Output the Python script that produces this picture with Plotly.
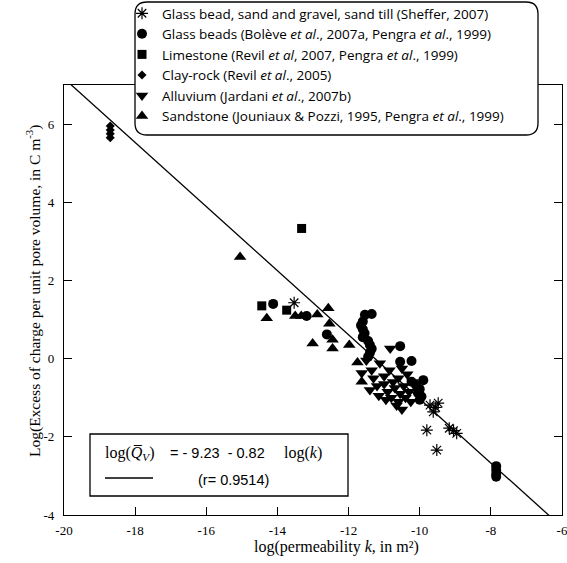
import plotly.graph_objects as go

# ---------------- data ----------------
sheffer_x = [-13.53, -9.71, -9.48, -9.62, -9.55, -9.80, -9.52, -9.17, -8.96, -9.05]
sheffer_y = [1.43, -1.19, -1.14, -1.36, -1.25, -1.83, -2.34, -1.78, -1.91, -1.84]

beads_x = [-14.12, -13.18, -12.61, -11.54, -11.35, -11.60, -11.65, -11.60, -11.55, -11.60,
           -11.45, -11.40, -11.35, -11.40, -11.45, -10.55, -10.55, -10.23, -10.23, -9.90,
           -10.10, -10.00, -10.05, -9.95, -10.00, -7.85, -7.85, -7.85, -7.85]
beads_y = [1.40, 1.09, 0.62, 1.12, 1.14, 0.95, 0.85, 0.75, 0.65, 0.55,
           0.45, 0.35, 0.25, 0.15, 0.05, 0.32, -0.08, -0.06, -0.59, -0.55,
           -0.68, -0.78, -0.88, -0.97, -1.05, -2.75, -2.85, -2.95, -3.02]

lime_x = [-13.32, -14.44, -13.74]
lime_y = [3.33, 1.35, 1.24]

clay_x = [-18.70, -18.70, -18.70, -18.70]
clay_y = [5.95, 5.85, 5.75, 5.65]

alluv_x = [-11.12, -10.83, -11.63, -11.40, -11.30, -11.20, -11.00, -11.00, -10.90, -10.85,
           -10.80, -10.75, -10.70, -10.60, -10.60, -10.55, -10.50, -10.45, -10.40, -10.35,
           -10.30, -10.95, -11.15, -10.65, -10.20, -11.50, -11.35, -10.25, -10.50]
alluv_y = [-0.12, 0.26, -0.37, -0.80, -0.50, -0.70, -0.45, -0.65, -0.85, -0.30,
           -1.00, -0.60, -0.75, -0.50, -1.10, -0.90, -1.30, -0.70, -1.00, -0.40,
           -0.85, -1.05, -0.95, -1.20, -0.60, -0.05, -0.30, -1.10, -0.25]

sand_x = [-15.05, -14.30, -13.50, -13.33, -12.88, -12.57, -12.54, -13.01, -12.45, -12.45,
          -11.98, -11.75, -11.63]
sand_y = [2.60, 1.03, 1.09, 1.09, 1.13, 1.29, 0.89, 0.39, 0.48, 0.26,
          0.35, -0.10, -0.59]

# regression: log(Qv) = a + b log(k)
fit_a, fit_b = -9.23, -0.82
fit_x = [-20, -6]
fit_y = [fit_a + fit_b * v for v in fit_x]

x_ticks = [-20, -18, -16, -14, -12, -10, -8, -6]
y_ticks = [-4, -2, 0, 2, 4, 6]

legend_names = [
    "Glass bead, sand and gravel, sand till (Sheffer, 2007)",
    "Glass beads (Bolève <i>et al</i>., 2007a, Pengra <i>et al</i>., 1999)",
    "Limestone (Revil <i>et al</i>, 2007, Pengra <i>et al</i>., 1999)",
    "Clay-rock (Revil <i>et al</i>., 2005)",
    "Alluvium (Jardani <i>et al</i>., 2007b)",
    "Sandstone (Jouniaux &amp; Pozzi, 1995, Pengra <i>et al</i>., 1999)",
]

# ---------------- figure ----------------
W, H = 567, 563
L, R, T, B = 64, 5, 85, 48
pw, ph = W - L - R, H - T - B

def px2paper(x, y):
    # screen pixel -> paper coordinate
    return (x - L) / pw, (H - B - y) / ph

fig = go.Figure()

fig.add_trace(go.Scatter(x=fit_x, y=fit_y, mode="lines",
                         line=dict(color="black", width=1.3), showlegend=False,
                         hoverinfo="skip"))

black = "black"
fig.add_trace(go.Scatter(x=sheffer_x, y=sheffer_y, mode="markers", name=legend_names[0],
                         marker=dict(symbol="asterisk-open", size=10, color=black,
                                     line=dict(color=black, width=1.2))))
fig.add_trace(go.Scatter(x=beads_x, y=beads_y, mode="markers", name=legend_names[1],
                         marker=dict(symbol="circle", size=10, color=black, line=dict(width=0))))
fig.add_trace(go.Scatter(x=lime_x, y=lime_y, mode="markers", name=legend_names[2],
                         marker=dict(symbol="square", size=9, color=black, line=dict(width=0))))
fig.add_trace(go.Scatter(x=clay_x, y=clay_y, mode="markers", name=legend_names[3],
                         marker=dict(symbol="diamond", size=7, color=black, line=dict(width=0))))
fig.add_trace(go.Scatter(x=alluv_x, y=alluv_y, mode="markers", name=legend_names[4],
                         marker=dict(symbol="triangle-down", size=11, color=black, line=dict(width=0))))
fig.add_trace(go.Scatter(x=sand_x, y=sand_y, mode="markers", name=legend_names[5],
                         marker=dict(symbol="triangle-up", size=11, color=black, line=dict(width=0))))

serif = "Liberation Serif, Times New Roman, serif"
sans = "Liberation Sans, Arial, sans-serif"
legfont = "Open Sans, Noto Sans, sans-serif"

axis_common = dict(showline=True, linecolor="black", linewidth=1.3, mirror="ticks",
                   ticks="inside", ticklen=8, tickwidth=1.3, tickcolor="black",
                   showgrid=False, zeroline=False, ticklabeloverflow="allow",
                   tickfont=dict(family=serif, size=13, color="black"))

fig.update_xaxes(range=[-20, -6], tickvals=x_ticks, ticktext=[str(v) for v in x_ticks],
                 ticklabelstandoff=3, **axis_common)
fig.update_yaxes(range=[-4, 7], tickvals=y_ticks, ticktext=[str(v) for v in y_ticks],
                 ticklabelstandoff=6, **axis_common)

# legend rounded box
bx0, by0 = px2paper(135, 135)
bx1, by1 = px2paper(538, 2)
rx, ry = 12 / pw, 12 / ph
path = (f"M {bx0+rx},{by1} L {bx1-rx},{by1} Q {bx1},{by1} {bx1},{by1-ry} "
        f"L {bx1},{by0+ry} Q {bx1},{by0} {bx1-rx},{by0} L {bx0+rx},{by0} "
        f"Q {bx0},{by0} {bx0},{by0+ry} L {bx0},{by1-ry} Q {bx0},{by1} {bx0+rx},{by1} Z")

shapes = [
    dict(type="path", path=path, xref="paper", yref="paper", layer="above",
         fillcolor="white", line=dict(color="black", width=1.3)),
]
fx0, fy0 = px2paper(90, 496)
fx1, fy1 = px2paper(348, 434)
shapes.append(dict(type="rect", x0=fx0, y0=fy0, x1=fx1, y1=fy1, xref="paper", yref="paper",
                   layer="above", fillcolor="white", line=dict(color="black", width=1.3)))
lx0, ly = px2paper(105, 478)
lx1, _ = px2paper(153, 478)
shapes.append(dict(type="line", x0=lx0, x1=lx1, y0=ly, y1=ly, xref="paper", yref="paper",
                   layer="above", line=dict(color="black", width=1.3)))

ann = []
ax_, ay_ = px2paper(103, 453)
ann.append(dict(x=ax_, y=ay_, xref="paper", yref="paper", xanchor="left", yanchor="middle",
                showarrow=False, text="log(<i>Q̅</i><sub><i>V</i></sub>)",
                font=dict(family=serif, size=16, color="black")))
ax_, ay_ = px2paper(168, 453)
ann.append(dict(x=ax_, y=ay_, xref="paper", yref="paper", xanchor="left", yanchor="middle",
                showarrow=False, text="= - 9.23  - 0.82",
                font=dict(family=sans, size=14.5, color="black")))
ax_, ay_ = px2paper(282, 453)
ann.append(dict(x=ax_, y=ay_, xref="paper", yref="paper", xanchor="left", yanchor="middle",
                showarrow=False, text="log(<i>k</i>)",
                font=dict(family=serif, size=16, color="black")))
ax_, ay_ = px2paper(233, 480)
ann.append(dict(x=ax_, y=ay_, xref="paper", yref="paper", xanchor="center", yanchor="middle",
                showarrow=False, text="(r= 0.9514)",
                font=dict(family=sans, size=14.5, color="black")))
# axis titles
ax_, ay_ = px2paper(336, 547)
ann.append(dict(x=ax_, y=ay_, xref="paper", yref="paper", xanchor="center", yanchor="middle",
                showarrow=False, text="log(permeability <i>k</i>, in m²)",
                font=dict(family=serif, size=16, color="black")))
ax_, ay_ = px2paper(33, 291)
ann.append(dict(x=ax_, y=ay_, xref="paper", yref="paper", xanchor="center", yanchor="middle",
                showarrow=False, textangle=-90,
                text="Log(Excess of charge per unit pore volume, in C m<sup>-3</sup>)",
                font=dict(family=serif, size=15.5, color="black")))

legx, legy = px2paper(122, -2)

fig.update_layout(
    width=W, height=H,
    margin=dict(l=L, r=R, t=T, b=B, autoexpand=False),
    paper_bgcolor="white", plot_bgcolor="white",
    shapes=shapes, annotations=ann,
    legend=dict(x=legx, y=legy, xanchor="left", yanchor="top",
                bgcolor="rgba(0,0,0,0)", borderwidth=0,
                font=dict(family=legfont, size=13.5, color="black"),
                itemwidth=30, tracegroupgap=0),
    showlegend=True,
)

fig.write_html("out.html", config={"displayModeBar": False},
               post_script="document.body.style.margin='0';document.body.style.overflow='hidden';")
